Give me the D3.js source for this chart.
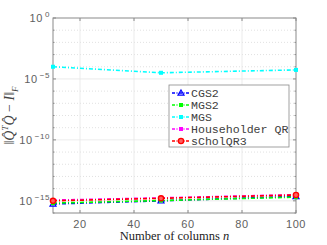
<!DOCTYPE html>
<html>
<head>
<meta charset="utf-8">
<script src="https://cdn.jsdelivr.net/npm/d3@7/dist/d3.min.js"></script>
<style>
  body { margin: 0; background: #fff; }
  svg { display: block; }
</style>
</head>
<body>
<svg id="chart" width="327" height="245"></svg>
<script>
const width = 327;
const height = 245;

// data
const columns = [10, 50, 100];
const seriesNames = ['CGS2', 'MGS2', 'MGS', 'Householder QR', 'sCholQR3'];
const cgs2 = [5.5e-16, 1.0e-15, 2.3e-15];
const mgs2 = [6.5e-16, 1.05e-15, 2.0e-15];
const mgs = [1.0e-4, 3.2e-5, 5.5e-5];
const householder = [1.15e-15, 1.75e-15, 3.2e-15];
const scholqr3 = [1.0e-15, 1.6e-15, 3.0e-15];
const xTicks = [20, 40, 60, 80, 100];
const yMajor = [0, -5, -10, -15];

const colors = ['#0000ff', '#00ff00', '#00ffff', '#ff00ff', '#ff0000'];
const markers = ['triangle', 'square', 'square', 'square', 'circle'];
const allSeries = [cgs2, mgs2, mgs, householder, scholqr3];

const margin = { top: 18, right: 31, bottom: 32, left: 53 };
const svg = d3.select('#chart');

const x = d3.scaleLinear().domain([10, 100]).range([margin.left, width - margin.right]);
const y = d3.scaleLog().domain([1e-16, 1]).range([height - margin.bottom, margin.top]);

const axisColor = '#8a8a8a';
const x0 = x.range()[0], x1 = x.range()[1];
const yB = y.range()[0], yT = y.range()[1];

// grid
const grid = svg.append('g');
d3.range(-16, 1).forEach((e) => {
  const major = yMajor.includes(e);
  if (e === -16 || e === 0) return;
  grid.append('line')
    .attr('x1', x0).attr('x2', x1)
    .attr('y1', y(10 ** e)).attr('y2', y(10 ** e))
    .attr('stroke', major ? '#e6e6e6' : '#d9d9d9')
    .attr('stroke-width', 0.8)
    .attr('stroke-dasharray', major ? null : '1,2');
});
xTicks.forEach((t) => {
  if (t === 100) return;
  grid.append('line')
    .attr('x1', x(t)).attr('x2', x(t))
    .attr('y1', yB).attr('y2', yT)
    .attr('stroke', '#e6e6e6')
    .attr('stroke-width', 0.8);
});

// axes (box, inward ticks)
const axes = svg.append('g').attr('stroke', axisColor).attr('stroke-width', 1).attr('fill', 'none');
axes.append('rect').attr('x', x0).attr('y', yT).attr('width', x1 - x0).attr('height', yB - yT);
xTicks.forEach((t) => {
  axes.append('line').attr('x1', x(t)).attr('x2', x(t)).attr('y1', yB).attr('y2', yB - 3);
  axes.append('line').attr('x1', x(t)).attr('x2', x(t)).attr('y1', yT).attr('y2', yT + 3);
});
d3.range(-16, 1).forEach((e) => {
  const len = yMajor.includes(e) ? 3 : 1.5;
  axes.append('line').attr('x1', x0).attr('x2', x0 + len).attr('y1', y(10 ** e)).attr('y2', y(10 ** e));
  axes.append('line').attr('x1', x1).attr('x2', x1 - len).attr('y1', y(10 ** e)).attr('y2', y(10 ** e));
});

// tick labels
const tickFont = 'Liberation Sans, Arial, sans-serif';
svg.append('g').selectAll('text').data(xTicks).join('text')
  .attr('x', (d) => x(d)).attr('y', yB + 15)
  .attr('text-anchor', 'middle')
  .attr('font-family', tickFont).attr('font-size', 11)
  .attr('letter-spacing', 0.6)
  .attr('fill', '#606060')
  .text((d) => d);

const yl = svg.append('g').selectAll('text').data(yMajor).join('text')
  .attr('x', x0 - 3).attr('y', (d) => y(10 ** d) + 4)
  .attr('text-anchor', 'end')
  .attr('font-family', tickFont).attr('font-size', 11)
  .attr('letter-spacing', 0.6)
  .attr('fill', '#606060');
yl.append('tspan').text('10');
yl.append('tspan').attr('dx', 2).attr('dy', -5).attr('font-size', 8)
  .text((d) => (d === 0 ? '0' : '\u2212' + (-d)));

// lines
const line = d3.line().x((d, i) => x(columns[i])).y((d) => y(d));
const plot = svg.append('g');
allSeries.forEach((s, k) => {
  plot.append('path')
    .attr('d', line(s))
    .attr('fill', 'none')
    .attr('stroke', colors[k])
    .attr('stroke-width', 1.6)
    .attr('stroke-dasharray', '4,2,1,2');
});

function drawMarker(g, type, cx, cy, color) {
  if (type === 'triangle') {
    g.append('path')
      .attr('d', `M${cx},${cy - 3}L${cx + 3},${cy + 2.2}L${cx - 3},${cy + 2.2}Z`)
      .attr('fill', 'none').attr('stroke', color).attr('stroke-width', 1.2);
  } else if (type === 'circle') {
    g.append('circle').attr('cx', cx).attr('cy', cy).attr('r', 2.6)
      .attr('fill', '#ff6060').attr('stroke', color).attr('stroke-width', 1.4);
  } else {
    g.append('rect').attr('x', cx - 2).attr('y', cy - 2).attr('width', 4).attr('height', 4)
      .attr('fill', color);
  }
}

allSeries.forEach((s, k) => {
  s.forEach((v, i) => drawMarker(plot, markers[k], x(columns[i]), y(v), colors[k]));
});

// legend
const lg = svg.append('g').attr('transform', 'translate(169,85)');
lg.append('rect').attr('width', 120).attr('height', 62)
  .attr('fill', '#fff').attr('stroke', '#8a8a8a').attr('stroke-width', 0.8);
seriesNames.forEach((name, k) => {
  const cy = 8 + k * 12;
  lg.append('line').attr('x1', 3).attr('x2', 20).attr('y1', cy).attr('y2', cy)
    .attr('stroke', colors[k]).attr('stroke-width', 1.4).attr('stroke-dasharray', '3,1.5,1,1.5');
  drawMarker(lg, markers[k], 12, cy, colors[k]);
  lg.append('text').attr('x', 22).attr('y', cy + 4)
    .attr('font-family', 'Liberation Mono, DejaVu Sans Mono, monospace')
    .attr('font-size', 11.6).attr('fill', '#404040')
    .text(name);
});

// axis titles
const xt = svg.append('text')
  .attr('x', (x0 + x1) / 2).attr('y', height - 5)
  .attr('text-anchor', 'middle')
  .attr('font-family', 'Liberation Serif, Times New Roman, serif')
  .attr('font-size', 12.5).attr('fill', '#222');
xt.append('tspan').text('Number of columns ');
xt.append('tspan').attr('font-style', 'italic').text('n');

const yt = svg.append('text')
  .attr('transform', `translate(14,${(yT + yB) / 2}) rotate(-90)`)
  .attr('text-anchor', 'middle')
  .attr('font-family', 'Liberation Serif, Times New Roman, serif')
  .attr('font-size', 14).attr('fill', '#444');
yt.append('tspan').text('\u2016');
yt.append('tspan').attr('font-style', 'italic').text('Q\u0302');
yt.append('tspan').attr('dy', -6).attr('font-size', 9).attr('font-style', 'italic').text('T');
yt.append('tspan').attr('dy', 6).attr('font-style', 'italic').text('Q\u0302');
yt.append('tspan').text(' \u2212 ');
yt.append('tspan').attr('font-style', 'italic').text('I');
yt.append('tspan').text('\u2016');
yt.append('tspan').attr('dy', 4).attr('font-size', 9).attr('font-style', 'italic').text('F');
</script>
</body>
</html>
